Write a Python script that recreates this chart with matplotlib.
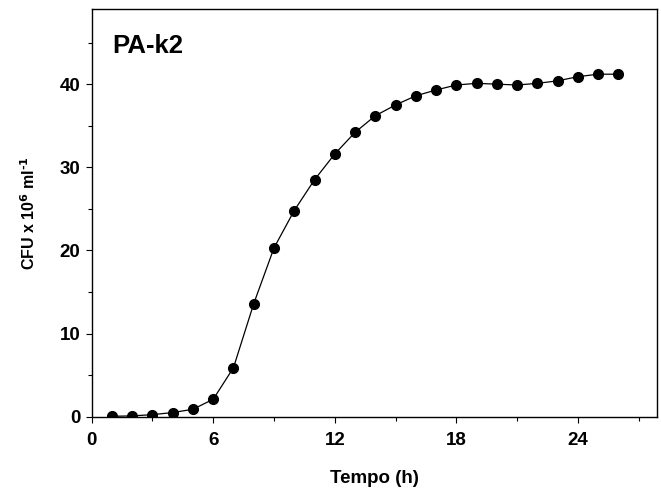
import numpy as np
import matplotlib
matplotlib.use('Agg')
import matplotlib.pyplot as plt
from matplotlib.ticker import MultipleLocator

# growth curve, PA-k2
tempo = [1, 2, 3, 4, 5, 6, 7, 8, 9, 10, 11, 12, 13,
         14, 15, 16, 17, 18, 19, 20, 21, 22, 23, 24, 25, 26]
cfu = [0.05, 0.1, 0.25, 0.5, 0.9, 2.1, 5.9, 13.6, 20.3, 24.8, 28.5, 31.6, 34.2,
       36.2, 37.5, 38.6, 39.3, 39.9, 40.1, 40.0, 39.9, 40.1, 40.4, 40.9, 41.2, 41.2]

plt.rcParams['font.family'] = ['Liberation Sans', 'DejaVu Sans']
plt.rcParams['font.weight'] = 'bold'
plt.rcParams['mathtext.default'] = 'bf'

fig = plt.figure(figsize=(6.61, 4.92), dpi=100)
ax = fig.add_axes([0.1387, 0.153, 0.855, 0.828])

ax.plot(tempo, cfu, '-o', color='black', linewidth=0.9, markersize=7)

ax.set_xlim(0, 27.9)
ax.set_ylim(0, 49)
ax.xaxis.set_major_locator(MultipleLocator(6))
ax.xaxis.set_minor_locator(MultipleLocator(3))
ax.yaxis.set_major_locator(MultipleLocator(10))
ax.yaxis.set_minor_locator(MultipleLocator(5))
ax.tick_params(which='major', direction='out', length=4.5, width=0.8, labelsize=13.5, pad=3.5)
ax.tick_params(which='minor', direction='out', length=3, width=0.8)
ax.tick_params(axis='x', which='major', pad=6.5)
for lab in ax.get_xticklabels() + ax.get_yticklabels():
    lab.set_fontweight('bold')
for s in ax.spines.values():
    s.set_linewidth(1.0)

ax.set_xlabel('Tempo (h)', fontsize=13.5, fontweight='bold')
ax.set_ylabel(r'CFU x 10$^{6}$ ml$^{\text{-1}}$', fontsize=11.5, fontweight='bold')
ax.xaxis.set_label_coords(0.5, -0.13)
ax.yaxis.set_label_coords(-0.095, 0.5)

ax.text(0.036, 0.893, 'PA-k2', transform=ax.transAxes, fontsize=18.5,
        fontweight='bold', ha='left', va='baseline')

fig.savefig('out.png', dpi=100)
